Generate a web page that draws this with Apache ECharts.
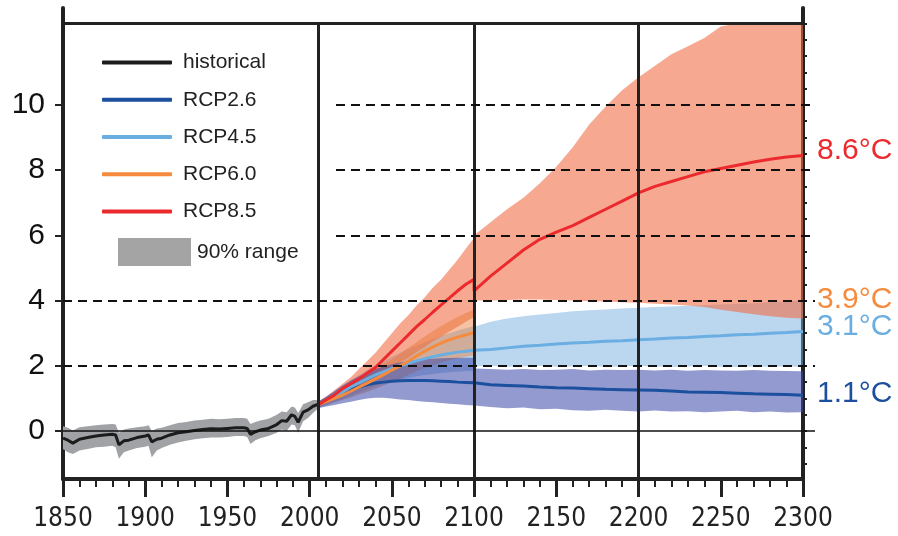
<!DOCTYPE html>
<html>
<head>
<meta charset="utf-8">
<script src="https://cdn.jsdelivr.net/npm/echarts@6/dist/echarts.min.js"></script>
<style>
html, body { margin: 0; padding: 0; background: #fff; }
#chart { width: 898px; height: 536px; }
</style>
</head>
<body>
<div id="chart"></div>
<script>
// historical run, 1850-2005
var histYears = [1850, 1853, 1856, 1860, 1865, 1870, 1875, 1880, 1882, 1884, 1887, 1890, 1895, 1900, 1902,
  1904, 1907, 1910, 1915, 1920, 1925, 1930, 1935, 1940, 1945, 1950, 1955, 1960, 1962, 1964, 1967, 1970,
  1975, 1980, 1983, 1986, 1989, 1991, 1993, 1996, 1999, 2002, 2005];
var histMean = [-0.22, -0.28, -0.37, -0.25, -0.2, -0.15, -0.12, -0.1, -0.12, -0.42, -0.3, -0.28, -0.2, -0.15, -0.12,
  -0.33, -0.25, -0.22, -0.12, -0.05, -0.02, 0.02, 0.05, 0.07, 0.06, 0.08, 0.1, 0.1, 0.08, -0.1, -0.02, 0.03,
  0.08, 0.2, 0.32, 0.3, 0.5, 0.45, 0.27, 0.58, 0.65, 0.76, 0.82];
var histHi = [0.15, 0.1, 0.02, 0.12, 0.15, 0.18, 0.2, 0.22, 0.2, -0.05, 0.05, 0.08, 0.12, 0.15, 0.18,
  0.0, 0.08, 0.1, 0.18, 0.25, 0.28, 0.32, 0.35, 0.38, 0.36, 0.38, 0.4, 0.4, 0.38, 0.22, 0.28, 0.32,
  0.38, 0.5, 0.6, 0.58, 0.75, 0.72, 0.55, 0.82, 0.88, 0.95, 0.95];
var histLo = [-0.55, -0.65, -0.7, -0.6, -0.55, -0.5, -0.48, -0.45, -0.5, -0.85, -0.65, -0.6, -0.52, -0.48, -0.45,
  -0.8, -0.6, -0.52, -0.42, -0.35, -0.3, -0.25, -0.22, -0.2, -0.2, -0.18, -0.15, -0.15, -0.18, -0.4, -0.28, -0.22,
  -0.15, -0.05, 0.05, 0.0, 0.2, 0.18, -0.05, 0.3, 0.4, 0.55, 0.68];

// projections (2100 appears twice: model set changes there)
var projYears = [2005, 2010, 2015, 2020, 2025, 2030, 2035, 2040, 2045, 2050, 2055, 2060, 2065, 2070, 2075,
  2080, 2085, 2090, 2095, 2100,
  2100, 2110, 2120, 2130, 2140, 2150, 2160, 2170, 2180, 2190, 2200, 2210, 2220, 2230, 2240, 2250, 2260,
  2270, 2280, 2290, 2300];

var rcp85Mean = [0.80, 0.95, 1.10, 1.30, 1.45, 1.60, 1.78, 1.95, 2.20, 2.45, 2.70, 2.95, 3.20, 3.42, 3.65,
  3.87, 4.08, 4.30, 4.50, 4.65,
  4.30, 4.75, 5.15, 5.55, 5.88, 6.10, 6.30, 6.55, 6.80, 7.05, 7.30, 7.50, 7.65, 7.80, 7.95, 8.05, 8.15,
  8.25, 8.33, 8.40, 8.45];
var rcp85Hi = [0.90, 1.05, 1.25, 1.45, 1.65, 1.90, 2.15, 2.40, 2.70, 3.00, 3.30, 3.55, 3.85, 4.10, 4.40,
  4.65, 4.95, 5.25, 5.60, 5.92,
  6.00, 6.40, 6.80, 7.15, 7.60, 8.10, 8.70, 9.40, 9.95, 10.45, 10.85, 11.20, 11.55, 11.80, 12.05, 12.40, 12.50,
  12.50, 12.50, 12.50, 12.50];
var rcp85Lo = [0.72, 0.85, 0.98, 1.10, 1.22, 1.35, 1.50, 1.65, 1.80, 1.95, 2.10, 2.25, 2.42, 2.58, 2.75,
  2.90, 3.05, 3.20, 3.35, 3.50,
  4.00, 4.00, 4.02, 4.03, 4.03, 4.02, 4.00, 3.98, 3.97, 3.95, 3.93, 3.90, 3.88, 3.85, 3.80, 3.72, 3.65,
  3.58, 3.52, 3.47, 3.45];

var rcp45Mean = [0.80, 0.92, 1.05, 1.20, 1.35, 1.48, 1.60, 1.72, 1.82, 1.92, 2.00, 2.08, 2.15, 2.22, 2.28,
  2.33, 2.38, 2.42, 2.45, 2.48,
  2.45, 2.50, 2.55, 2.60, 2.63, 2.67, 2.70, 2.72, 2.75, 2.77, 2.80, 2.82, 2.85, 2.87, 2.90, 2.92, 2.95,
  2.97, 3.00, 3.02, 3.05];
var rcp45Hi = [0.90, 1.05, 1.20, 1.38, 1.55, 1.72, 1.88, 2.02, 2.15, 2.28, 2.40, 2.52, 2.62, 2.72, 2.82,
  2.92, 3.00, 3.08, 3.15, 3.22,
  3.20, 3.35, 3.45, 3.52, 3.57, 3.62, 3.67, 3.70, 3.73, 3.76, 3.78, 3.80, 3.82, 3.84, 3.86, 3.88, 3.90,
  3.92, 3.95, 3.97, 4.00];
var rcp45Lo = [0.70, 0.78, 0.88, 0.98, 1.08, 1.18, 1.28, 1.37, 1.45, 1.52, 1.58, 1.63, 1.68, 1.72, 1.75,
  1.78, 1.80, 1.82, 1.84, 1.85,
  1.98, 2.00, 1.97, 1.99, 2.00, 1.97, 1.98, 2.00, 1.97, 1.98, 2.00, 1.98, 1.96, 1.98, 2.00, 1.97, 1.96,
  1.98, 1.97, 1.98, 1.97];

var rcp26Mean = [0.80, 0.92, 1.05, 1.18, 1.28, 1.36, 1.42, 1.47, 1.50, 1.53, 1.54, 1.55, 1.55, 1.55, 1.54,
  1.53, 1.52, 1.50, 1.49, 1.48,
  1.45, 1.42, 1.40, 1.38, 1.35, 1.33, 1.32, 1.30, 1.28, 1.27, 1.26, 1.25, 1.23, 1.20, 1.19, 1.18, 1.16,
  1.14, 1.13, 1.12, 1.10];
var rcp26Hi = [0.90, 1.05, 1.22, 1.40, 1.55, 1.68, 1.80, 1.90, 1.98, 2.05, 2.10, 2.15, 2.18, 2.20, 2.22,
  2.23, 2.24, 2.25, 2.25, 2.25,
  1.92, 1.90, 1.88, 1.90, 1.87, 1.88, 1.90, 1.86, 1.88, 1.87, 1.88, 1.86, 1.88, 1.85, 1.87, 1.86, 1.85,
  1.87, 1.85, 1.84, 1.83];
var rcp26Lo = [0.70, 0.75, 0.80, 0.85, 0.90, 0.95, 1.00, 1.02, 1.02, 1.00, 0.97, 0.95, 0.92, 0.90, 0.88,
  0.86, 0.84, 0.82, 0.80, 0.78,
  0.78, 0.74, 0.70, 0.72, 0.67, 0.68, 0.64, 0.62, 0.65, 0.62, 0.60, 0.63, 0.60, 0.61, 0.58, 0.60, 0.62,
  0.58, 0.60, 0.57, 0.58];

// RCP6.0 only to 2100
var rcp60Years = [2005, 2010, 2015, 2020, 2025, 2030, 2035, 2040, 2045, 2050, 2055, 2060, 2065, 2070, 2075,
  2080, 2085, 2090, 2095, 2100];
var rcp60Mean = [0.80, 0.90, 1.00, 1.10, 1.22, 1.35, 1.47, 1.60, 1.73, 1.87, 2.00, 2.15, 2.30, 2.45, 2.58,
  2.70, 2.80, 2.88, 2.95, 3.02];
var rcp60Hi = [0.90, 1.02, 1.15, 1.30, 1.45, 1.60, 1.75, 1.90, 2.05, 2.20, 2.37, 2.55, 2.72, 2.90, 3.07,
  3.22, 3.37, 3.50, 3.62, 3.72];
var rcp60Lo = [0.72, 0.80, 0.88, 0.95, 1.03, 1.12, 1.20, 1.30, 1.40, 1.50, 1.60, 1.72, 1.83, 1.93, 2.02,
  2.10, 2.17, 2.23, 2.28, 2.32];

// axes / annotations
var yTicks = [0, 2, 4, 6, 8, 10];
var rightTicks = [-1, -0.5, 0, 0.5, 1, 1.5, 2, 2.5, 3, 3.5, 4, 4.5, 5, 5.5, 6, 6.5, 7, 7.5, 8, 8.5, 9, 9.5,
  10, 10.5, 11, 11.5, 12, 12.5];
var endValues = [8.6, 3.9, 3.1, 1.1];
var endTexts = ['8.6°C', '3.9°C', '3.1°C', '1.1°C'];
var fullDashes = [2, 4];
var shortDashes = [6, 8, 10];
var dividerYears = [2005, 2100, 2200];

var yMin = -1.47, yMax = 12.97, frameTop = 12.5;
var xMin = 1850, xMax = 2300;
var xMaxExt = xMin + (xMax - xMin) * 752 / 740;
var dashStart = 2016;

var FONT = "'Liberation Sans', Arial, sans-serif";
var C = {
  hist: '#1c1c1c', r26: '#1d4f9f', r45: '#6aaee2', r60: '#f68b3d', r85: '#ec2a2e'
};

function zip(xs, ys) {
  return xs.map(function (x, i) { return [x, ys[i]]; });
}

// a shaded range drawn as one polygon through the axis scales
function band(name, years, lo, hi, color, opacity) {
  var pts = years.map(function (yr, i) { return [yr, lo[i], hi[i]]; });
  return {
    name: name, type: 'custom', data: pts, z: 1, silent: true, clip: true,
    encode: { x: 0, y: [1, 2] },
    itemStyle: { color: color },
    renderItem: function (params, api) {
      if (params.dataIndex !== 0) return null;
      var upper = pts.map(function (p) { return api.coord([p[0], p[2]]); });
      var lower = pts.map(function (p) { return api.coord([p[0], p[1]]); }).reverse();
      return {
        type: 'polygon',
        shape: { points: upper.concat(lower) },
        style: { fill: color, opacity: opacity }
      };
    }
  };
}

function meanLine(name, years, vals, color) {
  return {
    name: name, type: 'line', data: zip(years, vals), symbol: 'none', z: 3,
    itemStyle: { color: color },
    lineStyle: { color: color, width: 3 }
  };
}

var series = [
  band('90% range', histYears, histLo, histHi, '#a0a2a6', 1),
  band('RCP4.5 range', projYears, rcp45Lo, rcp45Hi, 'rgb(120,175,225)', 0.5),
  band('RCP8.5 range', projYears, rcp85Lo, rcp85Hi, 'rgb(240,110,70)', 0.6),
  band('RCP6.0 range', rcp60Years, rcp60Lo, rcp60Hi, 'rgb(235,120,50)', 0.45),
  band('RCP2.6 range', projYears, rcp26Lo, rcp26Hi, 'rgb(60,75,170)', 0.56),
  meanLine('historical', histYears, histMean, C.hist),
  meanLine('RCP2.6', projYears, rcp26Mean, C.r26),
  meanLine('RCP4.5', projYears, rcp45Mean, C.r45),
  meanLine('RCP6.0', rcp60Years, rcp60Mean, C.r60),
  meanLine('RCP8.5', projYears, rcp85Mean, C.r85)
];

// frame top and period dividers
var frameLines = dividerYears.map(function (yr) {
  return [{ coord: [yr, yMin] }, { coord: [yr, frameTop] }];
});
frameLines.push([{ coord: [xMin, frameTop] }, { coord: [xMax, frameTop] }]);
series.push({
  type: 'line', xAxisIndex: 0, yAxisIndex: 0, data: [], z: 10,
  markLine: {
    silent: true, symbol: ['none', 'none'], animation: false,
    label: { show: false },
    lineStyle: { color: '#222', width: 3, type: 'solid' },
    data: frameLines
  }
});

// reference lines run slightly past the right axis
var refLines = [[{ coord: [xMin, 0], lineStyle: { type: 'solid', width: 1.5 } }, { coord: [xMaxExt, 0] }]];
fullDashes.forEach(function (v) {
  refLines.push([{ coord: [xMin, v] }, { coord: [xMaxExt, v] }]);
});
shortDashes.forEach(function (v) {
  refLines.push([{ coord: [dashStart, v] }, { coord: [xMaxExt, v] }]);
});
series.push({
  type: 'line', xAxisIndex: 1, yAxisIndex: 2, data: [], z: 9,
  markLine: {
    silent: true, symbol: ['none', 'none'], animation: false,
    label: { show: false },
    lineStyle: { color: '#111', width: 2, type: [9, 6] },
    data: refLines
  }
});

var endRich = {
  s0: { color: C.r85, fontSize: 30, fontFamily: FONT, padding: [0, 0, 0, 0] },
  s1: { color: C.r60, fontSize: 30, fontFamily: FONT, padding: [0, 0, 8, 0] },
  s2: { color: C.r45, fontSize: 30, fontFamily: FONT, padding: [0, 0, 6, 0] },
  s3: { color: C.r26, fontSize: 30, fontFamily: FONT, padding: [0, 0, 2, 0] }
};

var chart = echarts.init(document.getElementById('chart'), null, { renderer: 'canvas' });
chart.setOption({
  animation: false,
  backgroundColor: '#fff',
  grid: [
    { left: 63, right: 95, top: 8, bottom: 57 },
    { left: 63, right: 83, top: 8, bottom: 57 }
  ],
  legend: [{
    data: ['historical', 'RCP2.6', 'RCP4.5', 'RCP6.0', 'RCP8.5'].map(function (n) {
      return { name: n, icon: 'roundRect' };
    }),
    orient: 'vertical', left: 102, top: 51.5, padding: 0,
    itemWidth: 70, itemHeight: 4, itemGap: 15.25, selectedMode: false,
    itemStyle: { borderWidth: 0 },
    textStyle: { fontSize: 21, fontFamily: FONT, color: '#222', lineHeight: 22, padding: [0, 0, 0, 6] }
  }, {
    data: [{ name: '90% range', icon: 'rect', itemStyle: { color: '#a4a4a4', opacity: 1, borderWidth: 0 } }],
    orient: 'vertical', left: 118, top: 238, padding: 0,
    itemWidth: 73, itemHeight: 28, selectedMode: false,
    textStyle: { fontSize: 21, fontFamily: FONT, color: '#222', padding: [0, 0, 0, 1] }
  }],
  xAxis: [{
    gridIndex: 0, type: 'value', min: xMin, max: xMax, interval: 50,
    axisLine: { onZero: false, lineStyle: { color: '#222', width: 4 } },
    axisTick: { length: 18, lineStyle: { color: '#222', width: 3 } },
    minorTick: { show: true, splitNumber: 5, length: 8, lineStyle: { color: '#222', width: 2 } },
    splitLine: { show: false },
    axisLabel: {
      margin: 27, fontSize: 26, color: '#222',
      fontFamily: "'DejaVu Sans Condensed', 'Liberation Sans', sans-serif",
      formatter: function (v) { return String(v); }
    }
  }, {
    gridIndex: 1, type: 'value', min: xMin, max: xMaxExt, show: false
  }],
  yAxis: [{
    gridIndex: 0, type: 'value', min: yMin, max: yMax, position: 'left',
    axisLine: { show: true, onZero: false, lineStyle: { color: '#222', width: 4 } },
    axisTick: { show: true, customValues: yTicks, length: 8, lineStyle: { color: '#222', width: 2 } },
    axisLabel: { customValues: yTicks, margin: 18, fontSize: 30, fontFamily: FONT, color: '#111' },
    splitLine: { show: false }
  }, {
    gridIndex: 0, type: 'value', min: yMin, max: yMax, position: 'right',
    axisLine: { show: true, onZero: false, lineStyle: { color: '#222', width: 4 } },
    axisTick: { show: true, customValues: rightTicks, length: 4, lineStyle: { color: '#222', width: 2 } },
    axisLabel: { show: false },
    splitLine: { show: false }
  }, {
    gridIndex: 1, type: 'value', min: yMin, max: yMax, position: 'left', show: false
  }, {
    gridIndex: 1, type: 'value', min: yMin, max: yMax, position: 'right',
    axisLine: { show: false, onZero: false }, axisTick: { show: false }, splitLine: { show: false },
    axisLabel: {
      customValues: endValues, margin: 2,
      formatter: function (v) {
        var i = endValues.indexOf(Number(v));
        return '{s' + i + '|' + endTexts[i] + '}';
      },
      rich: endRich
    }
  }],
  series: series
});
</script>
</body>
</html>
